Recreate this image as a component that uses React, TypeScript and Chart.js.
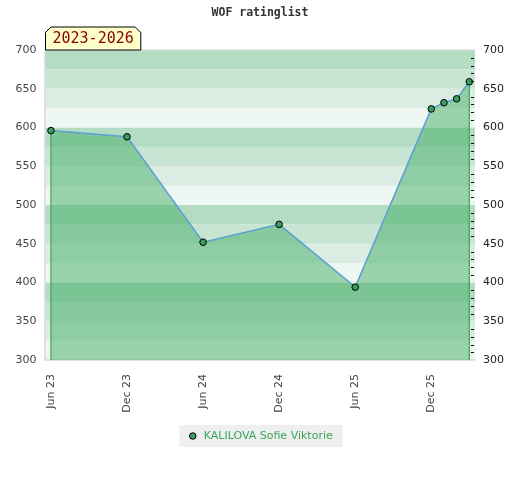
import { useEffect, useRef } from "react";
import { Chart, registerables } from "chart.js";

Chart.register(...registerables);

// ---- data ----
const chartTitle = "WOF ratinglist";
const periodLabel = "2023-2026";
const playerName = "KALILOVA Sofie Viktorie";
const months = ["2023-06", "2023-12", "2024-06", "2024-12", "2025-06", "2025-12", "2026-01", "2026-02", "2026-03"];
const ratings = [596, 588, 452, 475, 394, 624, 632, 637, 659];
const xTickLabels = ["Jun 23", "Dec 23", "Jun 24", "Dec 24", "Jun 25", "Dec 25"];
const tickEveryMonths = 6;
const yMin = 300;
const yMax = 700;
const yMajorStep = 50;
const yMinorStep = 10;
const bandStep = 25;

// ---- styles ----
const bandColors = ["#eef7f1", "#dbede2", "#c7e5d2", "#b3dcc2"];
const sansFont = "'DejaVu Sans', sans-serif";
const monoFont = "'DejaVu Sans Mono', monospace";

function toMonthNumber(s: string): number {
  const [y, m] = s.split("-").map(Number);
  return y * 12 + (m - 1);
}

export default function App() {
  const ref = useRef<HTMLCanvasElement>(null);

  useEffect(() => {
    const canvas = ref.current;
    if (!canvas) return;
    const base = toMonthNumber(months[0]);
    const points = months.map((m, i) => ({ x: toMonthNumber(m) - base, y: ratings[i] }));

    const decor = {
      id: "decor",
      beforeDraw(chart: any) {
        const { ctx } = chart;
        const hb = chart.legend && chart.legend.legendHitBoxes && chart.legend.legendHitBoxes[0];
        if (hb) {
          ctx.save();
          ctx.fillStyle = "#efefef";
          ctx.fillRect(hb.left - 8, hb.top - 5.5, hb.width + 18, hb.height + 11);
          ctx.restore();
        }
      },
      beforeDatasetsDraw(chart: any) {
        const { ctx, chartArea: a } = chart;
        const y = chart.scales.y;
        ctx.save();
        for (let v = yMin; v < yMax; v += bandStep) {
          const idx = Math.round((v % 100) / bandStep) % bandColors.length;
          const top = y.getPixelForValue(v + bandStep);
          const bot = y.getPixelForValue(v);
          ctx.fillStyle = bandColors[idx];
          ctx.fillRect(a.left, top, a.right - a.left, bot - top);
        }
        ctx.strokeStyle = "#d9d9d9";
        ctx.lineWidth = 1.5;
        ctx.beginPath();
        ctx.moveTo(a.right, a.top);
        ctx.lineTo(a.left, a.top);
        ctx.lineTo(a.left, a.bottom);
        ctx.lineTo(a.right, a.bottom);
        ctx.stroke();
        ctx.restore();
      },
      beforeDatasetDraw(chart: any, args: any) {
        const { ctx, chartArea: a } = chart;
        const pts = chart.getDatasetMeta(args.index).data;
        if (!pts.length) return;
        ctx.save();
        ctx.strokeStyle = "#3aa55a";
        ctx.lineWidth = 1.2;
        [pts[0], pts[pts.length - 1]].forEach((p: any) => {
          ctx.beginPath();
          ctx.moveTo(p.x, p.y);
          ctx.lineTo(p.x, a.bottom);
          ctx.stroke();
        });
        ctx.restore();
      },
      afterDatasetsDraw(chart: any) {
        const { ctx, chartArea: a } = chart;
        const yr = chart.scales.yRight;
        ctx.save();
        ctx.strokeStyle = "#000";
        ctx.lineWidth = 1;
        yr.ticks.forEach((t: any) => {
          if (t.value % yMajorStep === 0) return;
          const py = Math.round(yr.getPixelForValue(t.value)) + 0.5;
          ctx.beginPath();
          ctx.moveTo(a.right - 4, py);
          ctx.lineTo(a.right - 1, py);
          ctx.stroke();
        });
        ctx.restore();
      },
      afterDraw(chart: any) {
        const { ctx, chartArea: a } = chart;
        ctx.save();
        ctx.font = `15px ${monoFont}`;
        const tw = ctx.measureText(periodLabel).width;
        const x0 = a.left + 0.5;
        const x1 = x0 + tw + 14;
        const yb = a.top;
        const yt = a.top - 23;
        const cut = 5.5;
        ctx.beginPath();
        ctx.moveTo(x0, yb);
        ctx.lineTo(x0, yt + cut);
        ctx.lineTo(x0 + cut, yt);
        ctx.lineTo(x1 - cut, yt);
        ctx.lineTo(x1, yt + cut);
        ctx.lineTo(x1, yb);
        ctx.closePath();
        ctx.fillStyle = "#ffffcc";
        ctx.fill();
        ctx.strokeStyle = "#000";
        ctx.lineWidth = 1;
        ctx.stroke();
        ctx.fillStyle = "#8b0000";
        ctx.textAlign = "center";
        ctx.textBaseline = "middle";
        ctx.fillText(periodLabel, (x0 + x1) / 2, yt + 12.5);
        ctx.restore();
      },
    };

    const chart = new Chart(canvas, {
      type: "line",
      data: {
        datasets: [
          {
            label: playerName,
            data: points,
            borderColor: "#5b9fd6",
            borderWidth: 1.5,
            backgroundColor: "rgba(68,173,101,0.5)",
            fill: "start",
            tension: 0,
            pointRadius: 3.3,
            pointBackgroundColor: "#3a9d5d",
            pointBorderColor: "#000",
            pointBorderWidth: 1,
          },
        ],
      },
      options: {
        responsive: false,
        animation: false,
        events: [],
        layout: { padding: { top: 0, left: 0, right: 0, bottom: 28.5 } },
        scales: {
          x: {
            type: "linear",
            min: -0.47,
            max: 33.45,
            afterBuildTicks: (s: any) => {
              s.ticks = xTickLabels.map((_, i) => ({ value: i * tickEveryMonths }));
            },
            afterFit: (s: any) => {
              s.height = 60.5;
            },
            ticks: {
              autoSkip: false,
              minRotation: 90,
              maxRotation: 90,
              padding: 14,
              color: "#444",
              font: { family: sansFont, size: 11 },
              callback: (v: any) => xTickLabels[Math.round(Number(v) / tickEveryMonths)] ?? "",
            },
            grid: { display: false, drawTicks: false },
            border: { display: false },
          },
          y: {
            position: "left",
            min: yMin,
            max: yMax,
            afterFit: (s: any) => {
              s.width = 45;
            },
            ticks: {
              stepSize: yMajorStep,
              padding: 8.5,
              color: "#444",
              font: { family: sansFont, size: 11 },
            },
            grid: { display: false, drawTicks: false },
            border: { display: false },
          },
          yRight: {
            position: "right",
            min: yMin,
            max: yMax,
            afterFit: (s: any) => {
              s.width = 45;
            },
            ticks: {
              stepSize: yMinorStep,
              autoSkip: false,
              padding: 8,
              color: "#222",
              font: { family: sansFont, size: 11 },
              callback: (v: any) => (Number(v) % yMajorStep === 0 ? String(v) : ""),
            },
            grid: { display: false, drawTicks: false },
            border: { display: false },
          },
        },
        plugins: {
          title: {
            display: true,
            text: chartTitle,
            color: "#333",
            font: { family: monoFont, size: 11.5, weight: "bold" },
            padding: { top: 6, bottom: 30.2 },
          },
          legend: {
            position: "bottom",
            labels: {
              usePointStyle: true,
              pointStyle: "circle",
              boxHeight: 4.6,
              boxWidth: 11,
              padding: 10,
              color: "#3aa65b",
              font: { family: sansFont, size: 11 },
            },
          },
          tooltip: { enabled: false },
        },
      },
      plugins: [decor],
    } as any);

    return () => chart.destroy();
  }, []);

  return (
    <div style={{ position: "fixed", left: 0, top: 0, width: 520, height: 480, background: "#fff" }}>
      <canvas ref={ref} width={520} height={480} style={{ display: "block", width: 520, height: 480 }} />
    </div>
  );
}
